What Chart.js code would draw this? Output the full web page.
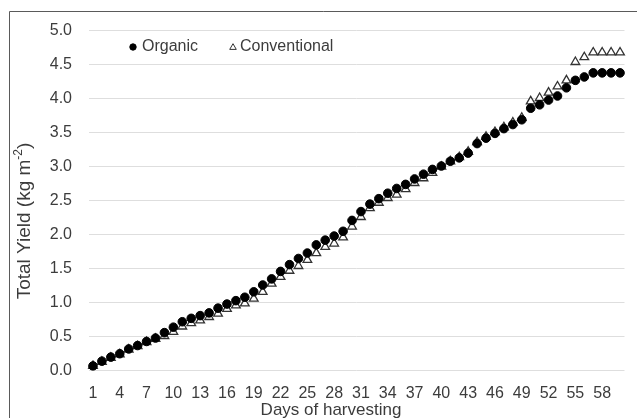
<!DOCTYPE html>
<html>
<head>
<meta charset="utf-8">
<script src="https://cdn.jsdelivr.net/npm/chart.js@4.4.1/dist/chart.umd.min.js"></script>
<style>
  html, body { margin: 0; padding: 0; background: #ffffff; }
  #wrap { position: relative; width: 637px; height: 418px; overflow: hidden; }
  canvas { display: block; }
</style>
</head>
<body>
<div id="wrap"><canvas id="c" width="637" height="418" style="width:637px;height:418px"></canvas></div>
<script>
const days = ['1','2','3','4','5','6','7','8','9','10','11','12','13','14','15','16','17','18','19','20',
  '21','22','23','24','25','26','27','28','29','30','31','32','33','34','35','36','37','38','39','40',
  '41','42','43','44','45','46','47','48','49','50','51','52','53','54','55','56','57','58','59','60'];
const tickLabels = ['1','4','7','10','13','16','19','22','25','28','31','34','37','40','43','46','49','52','55','58'];
const organic = [0.07,0.14,0.20,0.25,0.32,0.37,0.43,0.48,0.56,0.64,
  0.72,0.77,0.81,0.85,0.92,0.98,1.03,1.08,1.16,1.26,
  1.35,1.46,1.56,1.65,1.73,1.85,1.92,1.98,2.05,2.21,
  2.34,2.45,2.53,2.61,2.68,2.74,2.82,2.89,2.96,3.01,
  3.08,3.13,3.20,3.34,3.42,3.49,3.56,3.62,3.69,3.86,
  3.91,3.98,4.04,4.16,4.27,4.32,4.38,4.38,4.38,4.38];
const conventional = [0.07,0.13,0.19,0.24,0.31,0.36,0.42,0.47,0.51,0.57,
  0.65,0.70,0.74,0.79,0.84,0.91,0.96,0.99,1.06,1.16,
  1.28,1.38,1.47,1.54,1.63,1.73,1.82,1.87,1.96,2.12,
  2.26,2.39,2.47,2.54,2.59,2.67,2.76,2.83,2.91,3.00,
  3.08,3.14,3.22,3.36,3.44,3.51,3.58,3.65,3.72,3.96,
  4.01,4.09,4.18,4.27,4.54,4.61,4.68,4.68,4.68,4.68];
const seriesNames = ['Organic', 'Conventional'];
const xTitle = 'Days of harvesting';
const yTitleMain = 'Total Yield (kg m';
const yTitleSup = '-2';
const yTitleEnd = ')';

const FONT = '"Liberation Sans", Arial, Helvetica, sans-serif';
const TEXT = '#3c3c3c';

const decor = {
  id: 'decor',
  beforeDraw(chart) {
    const ctx = chart.ctx;
    ctx.save();
    ctx.strokeStyle = '#5a5a5a';
    ctx.lineWidth = 1;
    ctx.beginPath();
    ctx.moveTo(9.5, 418);
    ctx.lineTo(9.5, 11.5);
    ctx.lineTo(637, 11.5);
    ctx.stroke();
    ctx.restore();
  },
  afterDraw(chart) {
    const ctx = chart.ctx;
    ctx.save();
    // x title
    ctx.fillStyle = TEXT;
    ctx.font = '17px ' + FONT;
    ctx.textAlign = 'center';
    ctx.textBaseline = 'middle';
    ctx.fillText(xTitle, 331, 410);
    // y title
    ctx.translate(25, 221);
    ctx.rotate(-Math.PI / 2);
    ctx.font = '19px ' + FONT;
    const w1 = ctx.measureText(yTitleMain).width;
    const w3 = ctx.measureText(yTitleEnd).width;
    ctx.font = '12px ' + FONT;
    const w2 = ctx.measureText(yTitleSup).width;
    const total = w1 + w2 + w3;
    let x0 = -total / 2;
    ctx.textAlign = 'left';
    ctx.font = '19px ' + FONT;
    ctx.fillText(yTitleMain, x0, 0);
    ctx.font = '12px ' + FONT;
    ctx.fillText(yTitleSup, x0 + w1, -6.5);
    ctx.font = '19px ' + FONT;
    ctx.fillText(yTitleEnd, x0 + w1 + w2, 0);
    ctx.restore();

    // legend inside plot
    ctx.save();
    const ds = chart.data.datasets;
    const items = [
      {x: 133, y: 47, tx: 142, ds: ds[0], r: 3.2},
      {x: 233, y: 47.5, tx: 240, ds: ds[1], r: 3.8}
    ];
    items.forEach(it => {
      ctx.fillStyle = it.ds.backgroundColor;
      ctx.strokeStyle = it.ds.borderColor;
      ctx.lineWidth = 1;
      Chart.helpers.drawPoint(ctx, {pointStyle: it.ds.pointStyle, radius: it.r, borderWidth: 1, rotation: 0}, it.x, it.y);
      ctx.fillStyle = TEXT;
      ctx.font = '16px ' + FONT;
      ctx.textAlign = 'left';
      ctx.textBaseline = 'middle';
      ctx.fillText(it.ds.label, it.tx, 47);
    });
    ctx.restore();
  }
};

new Chart(document.getElementById('c'), {
  type: 'line',
  data: {
    labels: days,
    datasets: [
      {
        label: seriesNames[0],
        data: organic,
        showLine: false,
        pointStyle: 'circle',
        pointRadius: 4.3,
        pointBackgroundColor: '#000000',
        pointBorderColor: '#000000',
        pointBorderWidth: 1,
        backgroundColor: '#000000',
        borderColor: '#000000'
      },
      {
        label: seriesNames[1],
        data: conventional,
        showLine: false,
        pointStyle: 'triangle',
        pointRadius: 5,
        pointBackgroundColor: '#ffffff',
        pointBorderColor: '#333333',
        pointBorderWidth: 1.3,
        backgroundColor: '#ffffff',
        borderColor: '#333333'
      }
    ]
  },
  options: {
    responsive: false,
    animation: false,
    events: [],
    layout: { padding: { left: 0, right: 12.5, top: 30.7, bottom: 0 } },
    plugins: { legend: { display: false }, tooltip: { enabled: false } },
    scales: {
      x: {
        type: 'category',
        offset: true,
        grid: { display: false, drawTicks: false },
        border: { display: false },
        ticks: {
          autoSkip: false,
          maxRotation: 0,
          minRotation: 0,
          padding: 13,
          color: TEXT,
          font: { family: FONT, size: 16 },
          callback: function(value, index) {
            const lbl = days[index];
            return tickLabels.includes(lbl) ? lbl : '';
          }
        },
        afterFit: function(s) { s.height = 47.3; }
      },
      y: {
        min: 0,
        max: 5,
        grid: { color: '#dedede', lineWidth: 1, drawTicks: false },
        border: { display: false },
        ticks: {
          stepSize: 0.5,
          padding: 16.5,
          color: TEXT,
          font: { family: FONT, size: 16 },
          callback: function(v) { return Number(v).toFixed(1); }
        },
        afterFit: function(s) { s.width = 88.5; }
      }
    }
  },
  plugins: [decor]
});
</script>
</body>
</html>
